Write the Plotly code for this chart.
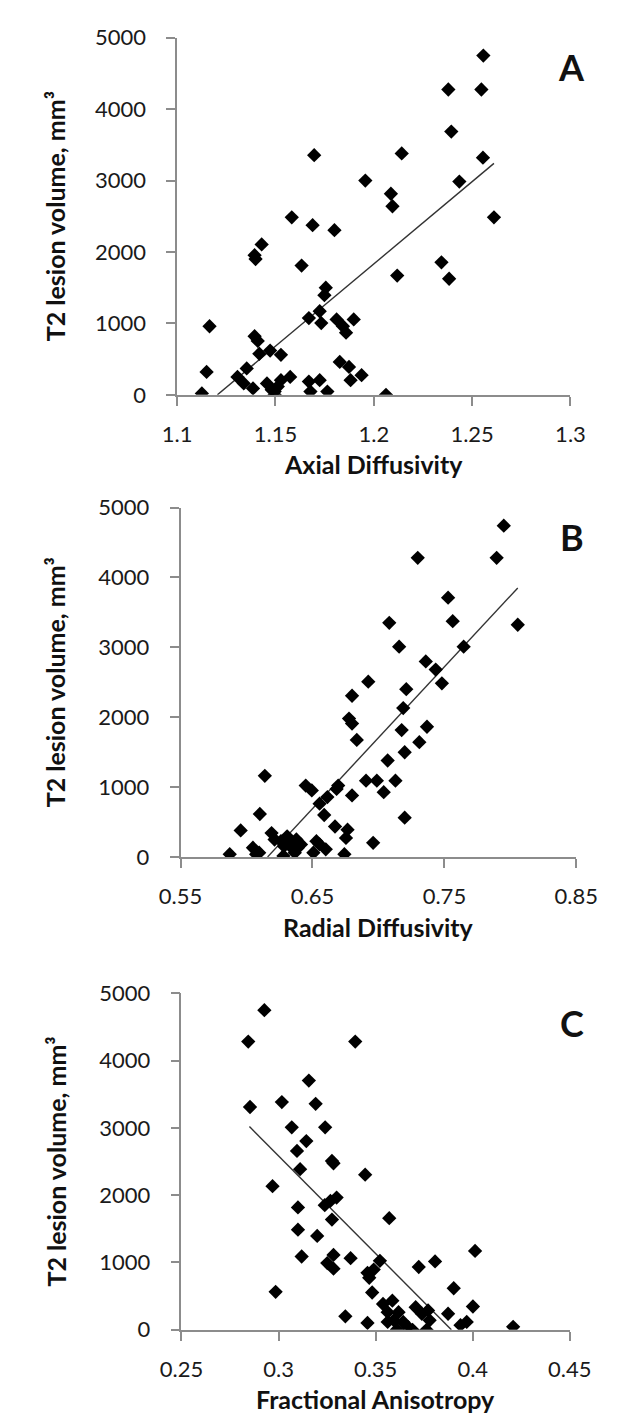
import plotly.graph_objects as go

# ---------------- data ----------------
# Panel A: Axial diffusivity vs T2 lesion volume
ad_x = [1.1165, 1.1126, 1.115, 1.1354, 1.1307, 1.1339, 1.1386, 1.1394, 1.141, 1.1418,
        1.1473, 1.1528, 1.1457, 1.1481, 1.1512, 1.1528, 1.1575, 1.1496, 1.167, 1.1678,
        1.1725, 1.1764, 1.1827, 1.1874, 1.1882, 1.1938, 1.2062, 1.167, 1.1725, 1.1733,
        1.1811, 1.1843, 1.1859, 1.1898, 1.1756, 1.1749, 1.1633, 1.1394, 1.1399, 1.143,
        1.1583, 1.1689, 1.18, 1.1697, 1.1957, 1.2557, 1.2379, 1.2547, 1.2394, 1.2142,
        1.2555, 1.2435, 1.2087, 1.2095, 1.2611, 1.2119, 1.2344, 1.2383, 1.1496]
ad_y = [960, 20, 320, 370, 250, 160, 90, 820, 755, 575,
        620, 560, 160, 70, 115, 205, 250, 45, 185, 45,
        205, 45, 460, 390, 205, 275, 0, 1075, 1170, 1005,
        1055, 960, 870, 1055, 1500, 1395, 1810, 1955, 1900, 2105,
        2485, 2375, 2305, 3355, 3000, 4750, 4275, 4275, 3685, 3380,
        3320, 2985, 2815, 2640, 2485, 1670, 1855, 1625, 0]
ad_fit_x = [1.1205, 1.2611]
ad_fit_y = [0, 3240]

# Panel B: Radial diffusivity vs T2 lesion volume
rd_x = [0.5873, 0.5956, 0.6049, 0.6096, 0.6073, 0.6101, 0.6139, 0.619, 0.6213, 0.6261,
        0.6308, 0.6284, 0.6331, 0.628, 0.6378, 0.6389, 0.6413, 0.6366, 0.6449, 0.6495,
        0.653, 0.6554, 0.6507, 0.6601, 0.6554, 0.6589, 0.6613, 0.6671, 0.6695, 0.6683,
        0.6766, 0.6754, 0.6742, 0.68, 0.6777, 0.68, 0.6836, 0.6906, 0.696, 0.6988,
        0.68, 0.6923, 0.7082, 0.7157, 0.7298, 0.7211, 0.7188, 0.7176, 0.7199, 0.707,
        0.7129, 0.704, 0.7199, 0.7359, 0.7434, 0.7481, 0.7368, 0.731, 0.7528, 0.7563,
        0.7646, 0.7896, 0.795, 0.8056]
rd_y = [38, 379, 131, 60, 38, 614, 1161, 341, 249, 225,
        295, 154, 154, 14, 249, 131, 178, 60, 1021, 951,
        225, 178, 60, 108, 762, 600, 856, 435, 1021, 973,
        389, 271, 38, 880, 1980, 1909, 1675, 1091, 201, 1091,
        2307, 2509, 3351, 3009, 4282, 2401, 2130, 1815, 1498, 1380,
        1091, 927, 562, 2798, 2682, 2485, 1863, 1643, 3711, 3374,
        3009, 4282, 4741, 3323]
rd_fit_x = [0.616, 0.8056]
rd_fit_y = [0, 3850]

# Panel C: Fractional anisotropy vs T2 lesion volume
fa_x = [0.2927, 0.2844, 0.2853, 0.3156, 0.3017, 0.3191, 0.3068, 0.324, 0.3143, 0.3095,
        0.3275, 0.3283, 0.3111, 0.2969, 0.3299, 0.3267, 0.3238, 0.31, 0.3275, 0.31,
        0.3199, 0.3119, 0.3283, 0.3251, 0.3283, 0.3371, 0.2985, 0.3344, 0.3395, 0.3446,
        0.357, 0.3522, 0.3722, 0.3806, 0.4012, 0.3458, 0.349, 0.3467, 0.3482, 0.3902,
        0.4001, 0.3458, 0.3538, 0.3586, 0.3562, 0.3618, 0.3594, 0.3562, 0.3642, 0.3666,
        0.361, 0.369, 0.3706, 0.3738, 0.377, 0.3778, 0.3762, 0.3873, 0.3937, 0.3969,
        0.4208]
fa_y = [4749, 4282, 3310, 3703, 3383, 3358, 3008, 3008, 2804, 2658,
        2508, 2474, 2387, 2133, 1964, 1914, 1852, 1818, 1637, 1487,
        1395, 1089, 1112, 991, 908, 1064, 564, 200, 4282, 2304,
        1658, 1025, 933, 1016, 1171, 846, 894, 773, 554, 617,
        346, 102, 383, 433, 262, 262, 141, 117, 117, 44,
        4, 0, 335, 238, 287, 141, 0, 238, 69, 117,
        44]
fa_fit_x = [0.285, 0.389]
fa_fit_y = [3020, 0]

y_ticks = [0, 1000, 2000, 3000, 4000, 5000]
ad_ticks = [1.1, 1.15, 1.2, 1.25, 1.3]
rd_ticks = [0.55, 0.65, 0.75, 0.85]
fa_ticks = [0.25, 0.3, 0.35, 0.4, 0.45]

x_titles = ["Axial Diffusivity", "Radial Diffusivity", "Fractional Anisotropy"]
y_title = "T2 lesion volume, mm³"
letters = ["A", "B", "C"]

# ---------------- layout helpers ----------------
W, H = 621, 1427
FONT = "Lato"
AXC = "#8c8c8c"

# plot areas in pixels: (left, right, top, bottom)
boxes = [(158.3, 581.7, 16, 380), (162, 588, 495, 851), (163, 581, 990, 1333)]
xranges = [[1.1, 1.3], [0.55, 0.85], [0.25, 0.45]]
xticks = [ad_ticks, rd_ticks, fa_ticks]
datasets = [(ad_x, ad_y, ad_fit_x, ad_fit_y),
            (rd_x, rd_y, rd_fit_x, rd_fit_y),
            (fa_x, fa_y, fa_fit_x, fa_fit_y)]

fig = go.Figure()
layout = dict(
    width=W, height=H,
    margin=dict(l=0, r=0, t=0, b=0),
    paper_bgcolor="white", plot_bgcolor="white",
    showlegend=False,
    font=dict(family=FONT, color="#111"),
)
annotations = []

for i, (box, xr, xt, ds) in enumerate(zip(boxes, xranges, xticks, datasets)):
    l, r, t, b = box
    sfx = "" if i == 0 else str(i + 1)
    xa, ya = "x" + sfx, "y" + sfx
    px_, py_, fx, fy = ds
    fig.add_trace(go.Scatter(x=fx, y=fy, mode="lines",
                             line=dict(color="#333", width=1.4),
                             xaxis=xa, yaxis=ya, hoverinfo="skip"))
    fig.add_trace(go.Scatter(x=px_, y=py_, mode="markers",
                             marker=dict(symbol="diamond", size=11, color="black"),
                             xaxis=xa, yaxis=ya))
    common = dict(showline=True, linecolor=AXC, linewidth=1.5, ticks="outside",
                  ticklen=9, tickwidth=1.5, tickcolor=AXC, showgrid=False,
                  zeroline=False, tickfont=dict(family=FONT, size=22, color="#1a1a1a"))
    layout["xaxis" + sfx] = dict(common, domain=[l / W, r / W], range=xr,
                                 tickvals=xt, ticktext=[f"{v:g}" for v in xt],
                                 anchor=ya, ticklabelstandoff=10)
    layout["yaxis" + sfx] = dict(common, domain=[1 - b / H, 1 - t / H], range=[0, 5000],
                                 tickvals=y_ticks, anchor=xa, ticklabelstandoff=16)
    # x title
    annotations.append(dict(text=f"<b>{x_titles[i]}</b>", xref="paper", yref="paper",
                            x=(l + r) / 2 / W, y=1 - (b + 71) / H, showarrow=False,
                            font=dict(family=FONT, size=25, color="#111"),
                            xanchor="center", yanchor="middle"))
    # y title
    annotations.append(dict(text=f"<b>{y_title}</b>", xref="paper", yref="paper",
                            x=27 / W, y=1 - (t + b) / 2 / H, showarrow=False, textangle=-90,
                            font=dict(family=FONT, size=25, color="#111"),
                            xanchor="center", yanchor="middle"))
    # panel letter
    annotations.append(dict(text=f"<b>{letters[i]}</b>", xref="paper", yref="paper",
                            x=583 / W, y=1 - (t + 30) / H, showarrow=False,
                            font=dict(family=FONT, size=36, color="#111"),
                            xanchor="center", yanchor="middle"))

layout["annotations"] = annotations
fig.update_layout(**layout)
fig.write_html("out.html")
